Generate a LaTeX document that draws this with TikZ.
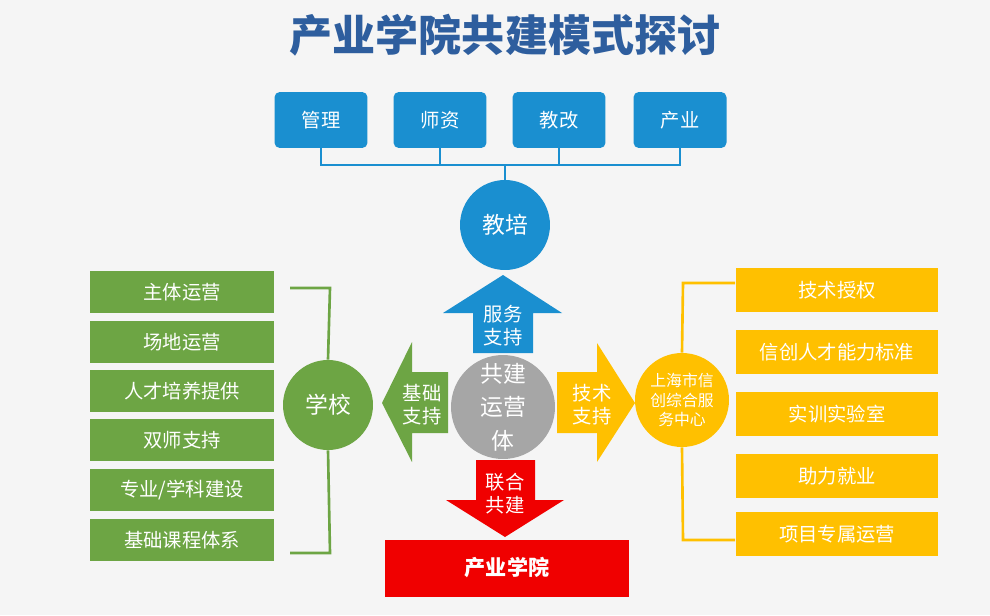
\documentclass[tikz,border=0pt]{standalone}
\usepackage{fontspec}
\setmainfont{Noto Sans CJK SC}
\definecolor{tblue}{HTML}{1A8FD0}
\definecolor{tgreen}{HTML}{6DA544}
\definecolor{tyellow}{HTML}{FFC000}
\definecolor{tred}{HTML}{F00000}
\definecolor{tgray}{HTML}{A6A6A6}
\definecolor{ttitle}{HTML}{2E5E9E}
\tikzset{
  topbox/.style={fill=tblue, text=white, rounded corners=3pt, minimum width=1.86cm, minimum height=1.12cm, font=\fontsize{11}{13}\selectfont},
  leftbox/.style={fill=tgreen, text=white, minimum width=3.7cm, minimum height=0.84cm, font=\fontsize{11}{13}\selectfont},
  rightbox/.style={fill=tyellow, text=white, minimum width=4.06cm, minimum height=0.88cm, font=\fontsize{11}{13}\selectfont},
  arrowtext/.style={text=white, align=center, font=\fontsize{11}{13}\selectfont, inner sep=0pt}
}
\begin{document}
\begin{tikzpicture}[x=0.02cm, y=-0.02cm]
        \useasboundingbox (0,0) rectangle (990,615);
        \fill [black!4] (0,0) rectangle (990,615);
        %Title
        \node [text=ttitle, font=\fontsize{24.5}{28}\selectfont\bfseries]
        (title)at(505,35){产业学院共建模式探讨};

        %Top boxes
        \node [topbox] (t1)at(321,120){管理};
        \node [topbox] (t2)at(440,120){师资};
        \node [topbox] (t3)at(559,120){教改};
        \node [topbox] (t4)at(680,120){产业};
        \coordinate (bus)at(505,165);
        \draw [tblue, line width=1.5pt](t1.south)|-(bus)-|(t4.south);
        \draw [tblue, line width=1.5pt](t2.south)|-(bus);
        \draw [tblue, line width=1.5pt](t3.south)|-(bus);

        %Teaching circle
        \node [circle, fill=tblue, text=white, minimum size=1.8cm, font=\fontsize{13}{15}\selectfont]
        (jp)at(505,225){教培};
        \draw [tblue, line width=1.5pt](bus)--(jp);

        %Arrows
        \fill [tblue](503,275)--(562,313)--(533,313)--(533,353)--(473,353)--(473,313)--(443,313)--cycle;
        \node [arrowtext] (up)at(503,326){服务\\支持};
        \fill [tgreen](382,403)--(412,342)--(412,372)--(448,372)--(448,433)--(412,433)--(412,462)--cycle;
        \node [arrowtext] (left)at(422,405){基础\\支持};
        \fill [tyellow](635,403)--(597,343)--(597,372)--(557,372)--(557,433)--(597,433)--(597,462)--cycle;
        \node [arrowtext] (right)at(592,405){技术\\支持};
        \fill [tred](505,537)--(564,500)--(535,500)--(535,460)--(476,460)--(476,500)--(446,500)--cycle;
        \node [arrowtext] (down)at(505,494){联合\\共建};

        %Center
        \node [circle, fill=tgray, text=white, minimum size=2.08cm, align=center, inner sep=0pt, font=\fontsize{13}{19}\selectfont]
        (core)at(503,407){共建\\运营\\体};

        %Red box
        \node [fill=tred, text=white, minimum width=4.9cm, minimum height=1.14cm, font=\fontsize{12}{14}\selectfont\bfseries]
        (cy)at(507,568){产业学院};

        %School
        \node [circle, fill=tgreen, text=white, minimum size=1.8cm, font=\fontsize{13}{15}\selectfont]
        (xx)at(328,405){学校};
        \node [leftbox] (l1)at(182,292){主体运营};
        \node [leftbox] (l2)at(182,342){场地运营};
        \node [leftbox] (l3)at(182,391){人才培养提供};
        \node [leftbox] (l4)at(182,440){双师支持};
        \node [leftbox] (l5)at(182,490){专业/学科建设};
        \node [leftbox] (l6)at(182,540){基础课程体系};
        \coordinate (lt)at(330,288);
        \coordinate (lb)at(330,553);
        \draw [tgreen, line width=1.5pt](290,288)--(lt)--(xx.north);
        \draw [tgreen, line width=1.5pt](290,553)--(lb)--(xx.south);

        %Service centre
        \node [circle, fill=tyellow, text=white, minimum size=1.88cm, align=center, inner sep=0pt, font=\fontsize{9}{11}\selectfont]
        (fw)at(682,400){上海市信\\创综合服\\务中心};
        \node [rightbox] (r1)at(837,290){技术授权};
        \node [rightbox] (r2)at(837,352){信创人才能力标准};
        \node [rightbox] (r3)at(837,414){实训实验室};
        \node [rightbox] (r4)at(837,476){助力就业};
        \node [rightbox] (r5)at(837,534){项目专属运营};
        \coordinate (rt)at(683,283);
        \coordinate (rb)at(683,540);
        \draw [tyellow, line width=1.5pt](735,283)--(rt)--(fw.north);
        \draw [tyellow, line width=1.5pt](735,540)--(rb)--(fw.south);

    \end{tikzpicture}
\end{document}
